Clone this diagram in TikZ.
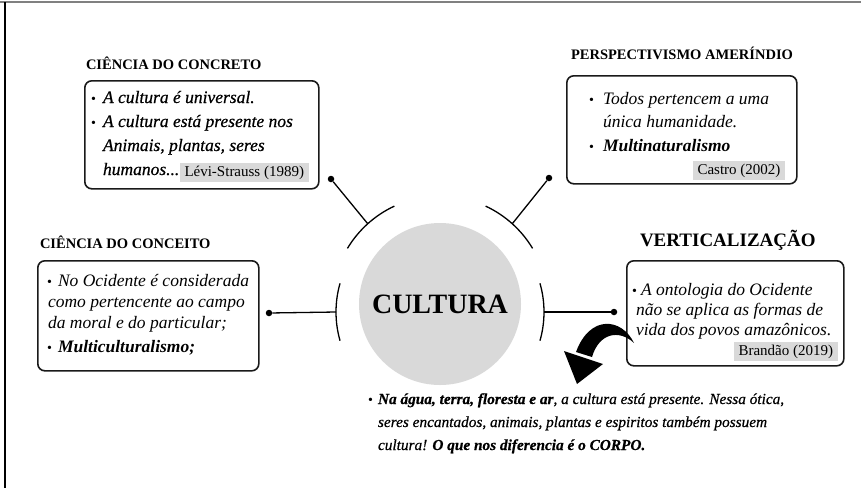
\documentclass[tikz,border=0pt]{standalone}
\usepackage{fontspec}
\setmainfont{Liberation Serif}
\newfontfamily\darkserif[FakeBold=0.6]{Liberation Serif}
\usetikzlibrary{calc}
\definecolor{hlgray}{HTML}{D9D9D9}
\definecolor{circgray}{HTML}{D9D9D9}
\tikzset{
  boxshape/.style={draw=black!90, line width=1.6pt, rounded corners=7pt, anchor=north west, inner sep=0pt},
  tx/.style={anchor=base west, inner sep=0pt, outer sep=0pt},
  body/.style={tx, font=\fontsize{17.5}{21}\selectfont\itshape},
  bodyd/.style={tx, font=\fontsize{17.5}{21}\selectfont\darkserif\itshape},
  bodyb/.style={tx, font=\fontsize{17.5}{21}\selectfont\bfseries\itshape},
  small/.style={tx, font=\fontsize{15.3}{17}\selectfont\darkserif\itshape},
  bul/.style={tx, font=\fontsize{14}{15}\selectfont},
  ttl/.style={tx, font=\fontsize{14.5}{17}\selectfont\bfseries},
  hl/.style={tx, fill=hlgray, inner xsep=4.5pt, inner ysep=3pt, font=\fontsize{15}{17}\selectfont},
  conn/.style={line width=1.3pt, black},
  dotnode/.style={circle, fill=black, inner sep=0pt, minimum size=6.5pt},
}
\begin{document}
\begin{tikzpicture}[x=1pt,y=-1pt]
\useasboundingbox (0,0) rectangle (861,488);
% frame
\draw[gray, line width=1.2pt] (0,2) -- (861,2);
\draw[black, line width=1.5pt] (5,2) -- (5,488);

% central circle
\node[circle, fill=circgray, minimum size=162pt, inner sep=0pt] (cult) at (440,304) {};
\node[font=\fontsize{28}{30}\selectfont\bfseries, inner sep=0pt] (cultt) at (440,304) {CULTURA};

% arcs (y axis points down, so angles are negated)
\draw[conn] (440,304) ++(-149:108) arc[start angle=-149, end angle=-115, radius=108];
\draw[conn] (440,304) ++(-65:108) arc[start angle=-65, end angle=-31, radius=108];
\draw[conn] (440,312) ++(-196:104) arc[start angle=-196, end angle=-164, radius=104];
\draw[conn] (440,312) ++(-16:104) arc[start angle=-16, end angle=16, radius=104];
\coordinate (aul) at ($(440,304)+(-132:108)$);
\coordinate (aur) at ($(440,304)+(-48:108)$);
\coordinate (al) at (336,312);
\coordinate (ar) at (544,312);

% dots and connectors
\node[dotnode] (dul) at (331,179) {};
\node[dotnode] (dur) at (549,178) {};
\node[dotnode] (dl) at (269,313) {};
\node[dotnode] (dr) at (614,312) {};
\draw[conn] (dul) -- (aul);
\draw[conn] (dur) -- (aur);
\draw[conn] (dl) -- (al);
\draw[conn] (dr) -- (ar);

% Box 1
\node[ttl] (t1) at (86,69) {CIÊNCIA DO CONCRETO};
\node[boxshape, minimum width=234pt, minimum height=108pt] (b1) at (84,80) {};
\node[bul] (b1p1) at (91,103) {\textbullet};
\node[bodyd] (b1l1) at (103,103) {A cultura é universal.};
\node[bul] (b1p2) at (91,127) {\textbullet};
\node[bodyd] (b1l2) at (103,127) {A cultura está presente nos};
\node[bodyd] (b1l3) at (103,151) {Animais, plantas, seres};
\node[bodyd] (b1l4) at (103,175) {humanos...};
\node[hl] (b1r) at (180,176) {Lévi-Strauss (1989)};

% Box 2
\node[ttl] (t2) at (571,59) {PERSPECTIVISMO AMERÍNDIO};
\node[boxshape, minimum width=230pt, minimum height=108pt] (b2) at (566,75) {};
\node[bul] (b2p1) at (589,104) {\textbullet};
\node[body] (b2l1) at (603,104) {Todos pertencem a uma};
\node[body] (b2l2) at (603,127) {única humanidade.};
\node[bul] (b2p2) at (589,151) {\textbullet};
\node[bodyb] (b2l3) at (603,151) {Multinaturalismo};
\node[hl] (b2r) at (693,174) {Castro (2002)};

% Box 3
\node[ttl] (t3) at (40,248) {CIÊNCIA DO CONCEITO};
\node[boxshape, minimum width=221pt, minimum height=110pt] (b3) at (37,260) {};
\node[bul] (b3p1) at (47,286) {\textbullet};
\node[body] (b3l1) at (58,286) {No Ocidente é considerada};
\node[body] (b3l2) at (48,307) {como pertencente ao campo};
\node[body] (b3l3) at (48,328) {da moral e do particular;};
\node[bul] (b3p2) at (47,352) {\textbullet};
\node[bodyb] (b3l4) at (58,352) {Multiculturalismo;};

% Box 4
\node[tx, font=\fontsize{19}{22}\selectfont\bfseries] (t4) at (640,246) {VERTICALIZAÇÃO};
\node[boxshape, minimum width=217pt, minimum height=105pt] (b4) at (626,260) {};
\node[bul] (b4p1) at (632,295) {\textbullet};
\node[body] (b4l1) at (641,295) {A ontologia do Ocidente};
\node[body] (b4l2) at (636,315) {não se aplica as formas de};
\node[body] (b4l3) at (636,335) {vida dos povos amazônicos.};
\node[hl] (b4r) at (734,355) {Brandão (2019)};

% curved arrow
\fill[black] (634,343) .. controls (622,318) and (590,314) .. (576,352)
  -- (592,357) .. controls (599,333) and (619,329) .. (634,343) -- cycle;
\fill[black] (564,351) -- (603,364) -- (577,384) -- cycle;

% bottom text
\node[bul] (bp) at (368,404) {\textbullet};
\node[small] (bl1) at (378,404) {\textbf{Na água, terra, floresta e ar}, a cultura está presente. Nessa ótica,};
\node[small] (bl2) at (378,427) {seres encantados, animais, plantas e espiritos também possuem};
\node[small] (bl3) at (378,450) {cultura! \textbf{O que nos diferencia é o CORPO.}};
\end{tikzpicture}
\end{document}
